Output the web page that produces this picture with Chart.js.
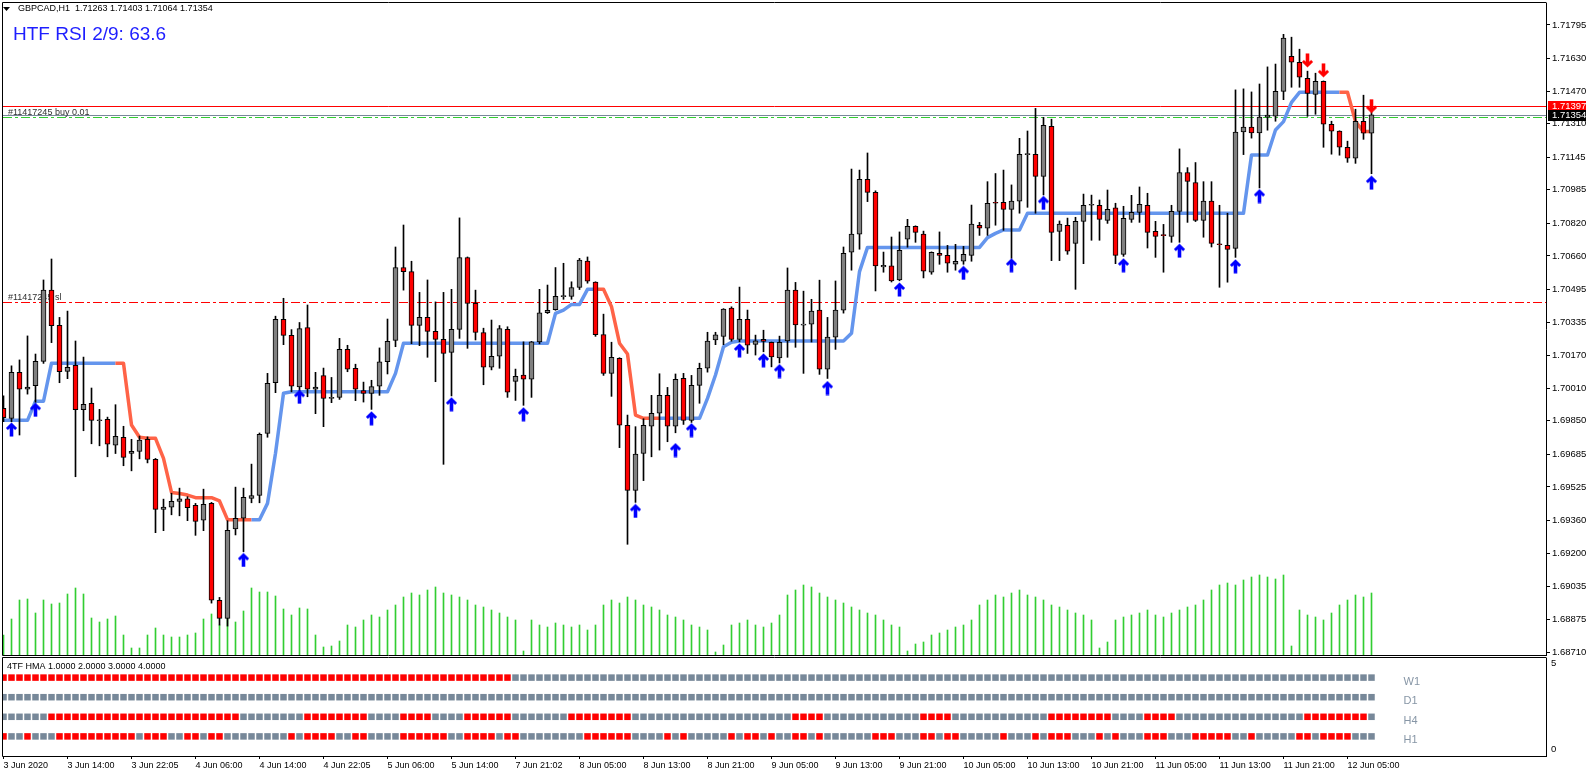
<!DOCTYPE html>
<html>
<head>
<meta charset="utf-8">
<script src="https://cdn.jsdelivr.net/npm/chart.js@4.4.1/dist/chart.umd.min.js"></script>
<style>
  html, body { margin: 0; padding: 0; background: #fff; }
  #wrap { position: relative; width: 1586px; height: 777px; overflow: hidden; }
  canvas { position: absolute; left: 0; }
  #main { top: 0; }
  #sub { top: 657px; }
</style>
</head>
<body>
<div id="wrap">
  <canvas id="main" width="1586" height="657"></canvas>
  <canvas id="sub" width="1586" height="120"></canvas>
</div>
<script>
// GBPCAD H1 bars, oldest first
const openP = [
  1.69911,1.69862,1.70088,1.70005,1.70022,1.70142,1.70492,1.70319,1.70093,1.70122,1.69904,1.69936,1.69850,1.69857,1.69730,1.69769,
  1.69689,1.69699,1.69759,1.69661,1.69415,1.69425,1.69454,1.69466,1.69435,1.69361,1.69444,1.68968,1.68879,1.69318,1.69371,1.69469,
  1.69483,1.69788,1.70037,1.70348,1.70270,1.70016,1.70308,1.70005,1.70072,1.69960,1.69965,1.70201,1.70108,1.69998,1.69985,1.70020,
  1.70140,1.70245,1.70603,1.70583,1.70319,1.70358,1.70289,1.70250,1.70186,1.70299,1.70652,1.70427,1.70284,1.70113,1.70167,1.70299,
  1.70044,1.70075,1.70054,1.70238,1.70381,1.70396,1.70460,1.70461,1.70505,1.70635,1.70531,1.70273,1.70083,1.70157,1.69828,1.69508,
  1.69689,1.69823,1.69887,1.69975,1.69823,1.70059,1.69852,1.70024,1.70108,1.70247,1.70264,1.70404,1.70250,1.70348,1.70225,1.70250,
  1.70235,1.70159,1.70243,1.70492,1.70320,1.70325,1.70394,1.70103,1.70261,1.70394,1.70678,1.70767,1.71036,1.70972,1.70606,1.70611,
  1.70542,1.70743,1.70806,1.70767,1.70580,1.70673,1.70663,1.70619,1.70634,1.70663,1.70811,1.70796,1.70924,1.70924,1.70889,1.70929,
  1.71158,1.71159,1.71051,1.71297,1.70781,1.70811,1.70722,1.70830,1.70909,1.70909,1.70835,1.70896,1.70668,1.70840,1.70874,1.70909,
  1.70781,1.70762,1.70756,1.70879,1.71070,1.71021,1.70835,1.70929,1.70717,1.70712,1.70697,1.71269,1.71293,1.71264,1.71342,1.71347,
  1.71469,1.71641,1.71612,1.71533,1.71454,1.71518,1.71307,1.71273,1.71194,1.71140,1.71322,1.71263
];
const highP = [
  1.69972,1.70120,1.70149,1.70267,1.70178,1.70542,1.70645,1.70358,1.70389,1.70242,1.70163,1.70011,1.69906,1.69868,1.69929,1.69823,
  1.69759,1.69775,1.69771,1.69665,1.69465,1.69494,1.69519,1.69477,1.69444,1.69514,1.69449,1.68982,1.69359,1.69524,1.69519,1.69637,
  1.69790,1.70083,1.70364,1.70452,1.70298,1.70333,1.70419,1.70088,1.70109,1.70063,1.70255,1.70221,1.70128,1.70040,1.70049,1.70208,
  1.70350,1.70704,1.70812,1.70634,1.70481,1.70542,1.70434,1.70481,1.70496,1.70847,1.70655,1.70492,1.70305,1.70345,1.70318,1.70312,
  1.70104,1.70238,1.70240,1.70496,1.70517,1.70603,1.70624,1.70533,1.70648,1.70655,1.70533,1.70374,1.70236,1.70160,1.69878,1.69821,
  1.69860,1.69975,1.70081,1.70014,1.70080,1.70083,1.70073,1.70133,1.70285,1.70285,1.70401,1.70410,1.70507,1.70394,1.70271,1.70295,
  1.70237,1.70266,1.70601,1.70530,1.70487,1.70447,1.70541,1.70358,1.70537,1.70704,1.71087,1.71082,1.71166,1.70980,1.70679,1.70753,
  1.70778,1.70840,1.70808,1.70782,1.70680,1.70778,1.70712,1.70717,1.70707,1.70910,1.70825,1.71025,1.71065,1.71082,1.71009,1.71238,
  1.71274,1.71385,1.71341,1.71332,1.70832,1.70846,1.70850,1.70964,1.70959,1.70935,1.70984,1.70919,1.70904,1.70958,1.70999,1.70968,
  1.70830,1.70815,1.70909,1.71186,1.71094,1.71119,1.71025,1.71025,1.70909,1.70870,1.71476,1.71481,1.71466,1.71505,1.71589,1.71603,
  1.71749,1.71735,1.71676,1.71568,1.71558,1.71520,1.71322,1.71275,1.71224,1.71381,1.71450,1.71403
];
const lowP = [
  1.69845,1.69845,1.69780,1.69981,1.69941,1.70132,1.70234,1.70037,1.70057,1.69575,1.69801,1.69737,1.69727,1.69673,1.69689,1.69629,
  1.69604,1.69663,1.69643,1.69300,1.69310,1.69388,1.69383,1.69359,1.69287,1.69310,1.68954,1.68846,1.68841,1.69289,1.69207,1.69447,
  1.69447,1.69769,1.69988,1.70224,1.69992,1.69997,1.69968,1.69885,1.69821,1.69939,1.69955,1.70091,1.69949,1.69942,1.69906,1.69975,
  1.70080,1.70214,1.70492,1.70229,1.70219,1.70162,1.70042,1.69636,1.69972,1.70255,1.70206,1.70247,1.70027,1.70100,1.70108,1.69965,
  1.69950,1.69926,1.69965,1.70228,1.70377,1.70393,1.70447,1.70447,1.70495,1.70526,1.70265,1.70073,1.69970,1.69718,1.69243,1.69449,
  1.69556,1.69673,1.69706,1.69747,1.69791,1.69832,1.69842,1.69936,1.70089,1.70224,1.70224,1.70241,1.70238,1.70181,1.70173,1.70189,
  1.70115,1.70134,1.70162,1.70211,1.70083,1.70237,1.70078,1.70058,1.70201,1.70379,1.70590,1.70693,1.70927,1.70488,1.70580,1.70532,
  1.70538,1.70703,1.70727,1.70552,1.70570,1.70619,1.70580,1.70590,1.70619,1.70634,1.70761,1.70761,1.70811,1.70786,1.70648,1.70870,
  1.70899,1.70870,1.70960,1.70637,1.70637,1.70668,1.70496,1.70622,1.70737,1.70737,1.70820,1.70622,1.70658,1.70825,1.70825,1.70699,
  1.70653,1.70580,1.70727,1.70727,1.70825,1.70829,1.70752,1.70704,1.70506,1.70531,1.70653,1.71158,1.71239,1.70994,1.71278,1.71322,
  1.71428,1.71489,1.71489,1.71346,1.71356,1.71194,1.71160,1.71155,1.71120,1.71115,1.71233,1.71064
];
const closeP = [
  1.69865,1.70088,1.70005,1.70016,1.70142,1.70492,1.70317,1.70091,1.70113,1.69904,1.69931,1.69852,1.69855,1.69735,1.69774,1.69670,
  1.69700,1.69755,1.69660,1.69415,1.69426,1.69454,1.69466,1.69423,1.69356,1.69440,1.68968,1.68879,1.69312,1.69371,1.69474,1.69483,
  1.69783,1.70034,1.70348,1.70270,1.70020,1.70303,1.70005,1.70016,1.69960,1.69960,1.70201,1.70103,1.70005,1.69985,1.70018,1.70140,
  1.70240,1.70603,1.70583,1.70319,1.70358,1.70289,1.70250,1.70181,1.70299,1.70652,1.70427,1.70284,1.70113,1.70167,1.70303,1.69990,
  1.70069,1.70054,1.70238,1.70381,1.70393,1.70461,1.70462,1.70505,1.70640,1.70536,1.70273,1.70083,1.70162,1.69828,1.69508,1.69686,
  1.69828,1.69887,1.69975,1.69823,1.70054,1.69852,1.70024,1.70108,1.70242,1.70272,1.70399,1.70250,1.70348,1.70222,1.70243,1.70240,
  1.70164,1.70235,1.70492,1.70321,1.70322,1.70389,1.70103,1.70261,1.70394,1.70673,1.70767,1.71036,1.70972,1.70611,1.70614,1.70537,
  1.70688,1.70806,1.70776,1.70585,1.70678,1.70663,1.70624,1.70634,1.70668,1.70816,1.70796,1.70919,1.70919,1.70889,1.70929,1.71159,
  1.71160,1.71051,1.71302,1.70776,1.70816,1.70683,1.70830,1.70909,1.70911,1.70840,1.70889,1.70663,1.70845,1.70874,1.70914,1.70776,
  1.70756,1.70760,1.70879,1.71070,1.71026,1.70835,1.70929,1.70722,1.70715,1.70692,1.71269,1.71293,1.71264,1.71342,1.71352,1.71469,
  1.71730,1.71612,1.71538,1.71459,1.71518,1.71307,1.71273,1.71194,1.71140,1.71322,1.71263,1.71354
];
const tickVolume = [
  800,1440,2200,2240,1680,2200,2040,2080,2440,2680,2440,1480,1320,1440,1560,800,
  280,280,800,1080,800,720,720,800,880,1440,1640,1200,1480,1320,1760,2680,
  2520,2520,2360,1840,1600,1880,1840,800,320,360,560,1200,1120,1400,1600,1520,
  1800,2000,2320,2480,2400,2600,2720,2480,2400,2320,2200,2000,1920,1800,1680,1520,
  1400,160,1400,1200,1120,1280,1200,1120,1200,1000,1200,2000,2200,2080,2320,2200,
  2000,1920,1800,1600,1520,1400,1200,1120,1000,120,400,1200,1280,1400,1200,1120,
  1280,1600,2400,2600,2800,2720,2480,2320,2200,2080,1920,1800,1680,1600,1400,1200,
  1120,160,440,520,800,880,1000,1120,1200,1400,2000,2200,2400,2320,2480,2600,
  2400,2320,2200,2000,1920,1800,1680,1600,1400,280,520,1400,1520,1600,1680,1800,
  1600,1520,1680,1800,1920,2000,2200,2600,2800,2880,2800,3000,3120,3200,3120,3040,
  3200,360,1800,1600,1520,1400,1680,2000,2200,2400,2320,2480
];
// HTF RSI step line and its falling (red) bars
const htfLine = [
  1.69852,1.69852,1.69852,1.69852,1.69946,1.69946,1.70133,1.70133,1.70133,1.70133,1.70133,1.70133,1.70133,1.70133,1.70133,1.70133,
  1.69829,1.69769,1.69764,1.69764,1.69665,1.69498,1.69493,1.69485,1.69472,1.69472,1.69472,1.69456,1.69364,1.69364,1.69364,1.69364,
  1.69364,1.69444,1.69690,1.69985,1.69993,1.69993,1.69993,1.69993,1.69993,1.69993,1.69993,1.69993,1.69993,1.69993,1.69993,1.69993,
  1.69993,1.70083,1.70231,1.70231,1.70231,1.70231,1.70231,1.70231,1.70231,1.70231,1.70231,1.70231,1.70231,1.70231,1.70231,1.70231,
  1.70231,1.70231,1.70231,1.70231,1.70231,1.70378,1.70394,1.70422,1.70422,1.70496,1.70496,1.70496,1.70411,1.70231,1.70178,1.69878,
  1.69862,1.69862,1.69862,1.69862,1.69862,1.69862,1.69862,1.69862,1.69960,1.70075,1.70214,1.70236,1.70242,1.70242,1.70242,1.70242,
  1.70242,1.70242,1.70242,1.70242,1.70242,1.70242,1.70242,1.70242,1.70242,1.70242,1.70280,1.70583,1.70702,1.70702,1.70702,1.70702,
  1.70702,1.70702,1.70702,1.70702,1.70702,1.70702,1.70702,1.70702,1.70702,1.70702,1.70702,1.70750,1.70771,1.70788,1.70788,1.70788,
  1.70870,1.70870,1.70870,1.70870,1.70870,1.70870,1.70870,1.70870,1.70870,1.70870,1.70870,1.70870,1.70870,1.70870,1.70870,1.70870,
  1.70870,1.70870,1.70870,1.70870,1.70870,1.70870,1.70870,1.70870,1.70870,1.70870,1.70870,1.70870,1.71156,1.71156,1.71156,1.71279,
  1.71320,1.71415,1.71464,1.71464,1.71464,1.71464,1.71464,1.71464,1.71464,1.71320,1.71271,1.71271
];
const htfDown = ('00000000 00000001 11111111 11111111 00000000 00000000 00000000 00000000 00000000 00011111 11100000 ' +
  '00000000 00000000 00000000 00000000 00000000 00000000 00000000 00000000 00000000 00000000 1111').replace(/ /g, '').split('').map(Number);

// signal arrows
const upIdx = [1,4,30,37,46,56,65,79,84,86,92,95,97,103,112,120,126,130,140,147,154,157,171];
const upPrice = [1.69807,1.69904,1.69166,1.69968,1.69862,1.69931,1.69882,1.69407,1.69706,1.69804,1.70196,1.70147,
  1.70094,1.70011,1.70495,1.70577,1.70614,1.70921,1.70614,1.70686,1.70609,1.70954,1.71020];
const downIdx = [163,165,171];
const downPrice = [1.71621,1.71572,1.71396];

// order / price lines
const askLine = 1.71397, bidLine = 1.71354, buyOpen = 1.71341, buySL = 1.70432;

// axes
const priceTicks = [1.68710,1.68875,1.69035,1.69200,1.69360,1.69525,1.69685,1.69850,1.70010,1.70170,
  1.70335,1.70495,1.70660,1.70820,1.70985,1.71145,1.71310,1.71470,1.71630,1.71795];
const timeIdx = [0,8,16,24,32,40,48,56,64,72,80,88,96,104,112,120,128,136,144,152,160,168];
const timeLabels = ['3 Jun 2020','3 Jun 14:00','3 Jun 22:05','4 Jun 06:00','4 Jun 14:00','4 Jun 22:05','5 Jun 06:00',
  '5 Jun 14:00','7 Jun 21:02','8 Jun 05:00','8 Jun 13:00','8 Jun 21:00','9 Jun 05:00','9 Jun 13:00','9 Jun 21:00',
  '10 Jun 05:00','10 Jun 13:00','10 Jun 21:00','11 Jun 05:00','11 Jun 13:00','11 Jun 21:00','12 Jun 05:00'];

// 4TF HMA panel, 1 = red (down)
const hmaRows = ['W1','D1','H4','H1'];
const hmaLevels = [4,3,2,1];
const hmaW1 = '11111111 11111111 11111111 11111111 11111111 11111111 11111111 11111111 00000000 00000000 00000000 00000000 00000000 00000000 00000000 00000000 00000000 00000000 00000000 00000000 00000000 0000';
const hmaD1 = '00000000 00000000 00000000 00000000 00000000 00000000 00000000 00000000 00000000 00000000 00000000 00000000 00000000 00000000 00000000 00000000 00000000 00000000 00000000 00000000 00000000 0000';
const hmaH4 = '00000011 11111111 11111111 11111100 00000011 11111100 00111100 00111111 00000001 11111110 00000000 00000000 00011110 00000000 00011110 00000000 00011111 11100001 11100000 00000000 00011111 1110';
const hmaH1 = '10010001 11111111 10111001 10110000 00001011 11001100 00111111 00111101 10000000 01111110 00010100 00010110 10011010 00000111 00011011 00000100 01011100 01010001 11000111 11001000 00110111 1000';
const hmaAxisPos = [4.745, 0.357];
const hmaAxisLabels = ['5', '0'];

const hmaState = [hmaW1, hmaD1, hmaH4, hmaH1].map(s => s.replace(/ /g, '').split('').map(Number));

Chart.defaults.font.family = "'Liberation Sans', Arial, sans-serif";
Chart.defaults.color = '#000';

const idx = openP.map((_, i) => i);
const X_MIN = -0.0625, X_MAX = 192.8125;
const Y_MIN = 1.68699, Y_MAX = 1.71903;
const VOL_MAX = 26080;

function arrowImg(color, down) {
  const c = document.createElement('canvas');
  c.width = 13; c.height = 15;
  const g = c.getContext('2d');
  g.translate(6.5, 7.5);
  if (down) g.scale(1, -1);
  g.fillStyle = color;
  g.beginPath();
  g.moveTo(0, -7); g.lineTo(5.6, -1.4); g.lineTo(3.6, 0.6); g.lineTo(1.8, -1.2);
  g.lineTo(1.8, 7); g.lineTo(-1.8, 7); g.lineTo(-1.8, -1.2); g.lineTo(-3.6, 0.6); g.lineTo(-5.6, -1.4);
  g.closePath(); g.fill();
  return c;
}

const frame = {
  id: 'frame',
  afterDraw(chart) {
    const {ctx, chartArea: a} = chart;
    ctx.save();
    ctx.strokeStyle = '#000'; ctx.lineWidth = 1;
    ctx.beginPath();
    ctx.moveTo(a.left - 0.5, a.bottom + 0.5); ctx.lineTo(a.left - 0.5, a.top - 0.5); ctx.lineTo(a.right + 0.5, a.top - 0.5);
    ctx.moveTo(a.left - 0.5, a.bottom + 0.5); ctx.lineTo(a.right + 0.5, a.bottom + 0.5);
    ctx.stroke();
    ctx.restore();
  }
};

const mainDecor = {
  id: 'mainDecor',
  beforeDatasetsDraw(chart) {
    const {ctx, chartArea: a, scales: {y}} = chart;
    const py = v => Math.round(y.getPixelForValue(v)) + 0.5;
    ctx.save();
    ctx.lineWidth = 1;
    const hl = (v, color, dash) => {
      ctx.strokeStyle = color; ctx.setLineDash(dash);
      ctx.beginPath(); ctx.moveTo(a.left, py(v)); ctx.lineTo(a.right, py(v)); ctx.stroke();
    };
    hl(buySL, '#FF0000', [9, 3, 3, 3]);
    hl(buyOpen, '#32CD32', [9, 3, 3, 3]);
    hl(bidLine, '#778899', []);
    hl(askLine, '#FF0000', []);
    ctx.setLineDash([]);
    ctx.fillStyle = '#303030';
    ctx.font = "9px 'Liberation Sans', Arial, sans-serif";
    ctx.textBaseline = 'alphabetic';
    ctx.fillText('#11417245 buy 0.01', 8, py(buyOpen) - 3);
    ctx.fillText('#11417245 sl', 8, py(buySL) - 3);
    ctx.restore();
  },
  afterDraw(chart) {
    const {ctx, chartArea: a, scales: {y}} = chart;
    ctx.save();
    // header
    ctx.fillStyle = '#fff';
    ctx.fillRect(0, 0, 212, 15);
    ctx.fillStyle = '#000';
    ctx.beginPath(); ctx.moveTo(3, 7); ctx.lineTo(10, 7); ctx.lineTo(6.5, 11); ctx.closePath(); ctx.fill();
    ctx.font = "9px 'Liberation Sans', Arial, sans-serif";
    ctx.textBaseline = 'middle';
    const last = openP.length - 1;
    ctx.fillText('GBPCAD,H1  ' + [openP[last], highP[last], lowP[last], closeP[last]].map(v => v.toFixed(5)).join(' '), 18, 9);
    ctx.fillStyle = '#1e1eff';
    ctx.font = "19px 'Liberation Sans', Arial, sans-serif";
    ctx.fillText('HTF RSI 2/9: 63.6', 13, 35);
    // price tags on the axis
    ctx.font = "9.5px 'Liberation Sans', Arial, sans-serif";
    const tag = (v, bg) => {
      const py = Math.round(y.getPixelForValue(v));
      ctx.fillStyle = bg; ctx.fillRect(a.right + 2, py - 5, 38, 11);
      ctx.fillStyle = '#fff'; ctx.fillText(v.toFixed(5), a.right + 6, py + 0.5);
    };
    tag(askLine, '#FF0000');
    tag(bidLine, '#000000');
    ctx.restore();
  }
};

new Chart(document.getElementById('main'), {
  type: 'bar',
  data: {
    datasets: [
      { type: 'bar', label: 'Volumes', xAxisID: 'x', yAxisID: 'yVol', data: idx.map(i => ({x: i, y: tickVolume[i]})),
        backgroundColor: '#32CD32', barThickness: 1, grouped: false, order: 9 },
      { type: 'line', label: 'HTF RSI', xAxisID: 'x', yAxisID: 'y', data: idx.map(i => ({x: i, y: htfLine[i]})),
        borderColor: '#6495ED', borderWidth: 3.5, pointRadius: 0, tension: 0, borderJoinStyle: 'round',
        segment: { borderColor: c => htfDown[c.p1DataIndex] ? '#FF6347' : '#6495ED' }, order: 6 },
      { type: 'bar', label: 'wick', xAxisID: 'x', yAxisID: 'y', data: idx.map(i => ({x: i, y: [lowP[i], highP[i]]})),
        backgroundColor: '#000', barThickness: 1, grouped: false, order: 4 },
      { type: 'bar', label: 'body', xAxisID: 'x', yAxisID: 'y', data: idx.map(i => ({x: i, y: [openP[i], closeP[i]]})),
        backgroundColor: idx.map(i => closeP[i] >= openP[i] ? '#808080' : '#FF0000'),
        borderColor: '#000', borderWidth: 1, borderSkipped: false, barThickness: 5, minBarLength: 1,
        grouped: false, order: 3 },
      { type: 'scatter', label: 'up', xAxisID: 'x', yAxisID: 'y', data: upIdx.map((v, k) => ({x: v, y: upPrice[k]})),
        pointStyle: arrowImg('#0000FF', false), pointRadius: 7, order: 1 },
      { type: 'scatter', label: 'down', xAxisID: 'x', yAxisID: 'y', data: downIdx.map((v, k) => ({x: v, y: downPrice[k]})),
        pointStyle: arrowImg('#FF0000', true), pointRadius: 7, order: 1 }
    ]
  },
  options: {
    responsive: false, animation: false, devicePixelRatio: 1, events: [],
    layout: { autoPadding: false, padding: { left: 3, top: 3, right: 0, bottom: 2 } },
    plugins: { legend: { display: false }, tooltip: { enabled: false } },
    scales: {
      x: { type: 'linear', display: false, min: X_MIN, max: X_MAX, offset: false, grid: { offset: false } },
      y: {
        type: 'linear', position: 'right', min: Y_MIN, max: Y_MAX,
        afterBuildTicks: s => { s.ticks = priceTicks.map(v => ({value: v})); },
        afterFit: s => { s.width = 40; s.paddingTop = 0; s.paddingBottom = 0; },
        grid: { display: true, drawOnChartArea: false, drawTicks: true, tickLength: 4, color: '#000' },
        border: { display: true, color: '#000' },
        ticks: { autoSkip: false, padding: 2, color: '#000', font: { size: 9.5 }, callback: v => v.toFixed(5) }
      },
      yVol: { type: 'linear', display: false, min: 0, max: VOL_MAX }
    }
  },
  plugins: [mainDecor, frame]
});

const subDecor = {
  id: 'subDecor',
  afterDraw(chart) {
    const {ctx, scales: {x, y}} = chart;
    ctx.save();
    ctx.fillStyle = '#000';
    ctx.font = "9px 'Liberation Sans', Arial, sans-serif";
    ctx.textBaseline = 'middle';
    ctx.fillText('4TF HMA 1.0000 2.0000 3.0000 4.0000', 7, 10);
    ctx.fillStyle = '#8796a6';
    ctx.font = "11px 'Liberation Sans', Arial, sans-serif";
    const lx = x.getPixelForValue(openP.length - 1) + 32;
    hmaRows.forEach((r, k) => ctx.fillText(r, lx, y.getPixelForValue(hmaLevels[k]) + 4));
    ctx.restore();
  }
};

new Chart(document.getElementById('sub'), {
  type: 'scatter',
  data: {
    datasets: hmaRows.map((r, k) => ({
      label: r, xAxisID: 'x', yAxisID: 'y',
      data: idx.map(i => ({x: i, y: hmaLevels[k]})),
      pointStyle: 'rect', pointRadius: 4.6, pointBorderWidth: 0,
      pointBackgroundColor: idx.map(i => hmaState[k][i] ? '#FF0000' : '#778899')
    }))
  },
  options: {
    responsive: false, animation: false, devicePixelRatio: 1, events: [],
    layout: { autoPadding: false, padding: { left: 3, top: 1, right: 0, bottom: 0 } },
    plugins: { legend: { display: false }, tooltip: { enabled: false } },
    scales: {
      x: {
        type: 'linear', min: X_MIN, max: X_MAX, offset: false, position: 'bottom',
        afterBuildTicks: s => { s.ticks = timeIdx.map(v => ({value: v})); },
        afterFit: s => { s.height = 21; s.paddingLeft = 0; s.paddingRight = 0; },
        grid: { display: true, drawOnChartArea: false, drawTicks: true, tickLength: 3, color: '#000' },
        border: { display: true, color: '#000' },
        ticks: { autoSkip: false, maxRotation: 0, align: 'start', padding: 1, color: '#000', font: { size: 9 },
          callback: (v, k) => timeLabels[k] }
      },
      y: {
        type: 'linear', position: 'right', min: 0, max: 5,
        afterBuildTicks: s => { s.ticks = hmaAxisPos.map(v => ({value: v})); },
        afterFit: s => { s.width = 40; s.paddingTop = 0; s.paddingBottom = 0; },
        grid: { display: true, drawOnChartArea: false, drawTicks: false },
        border: { display: true, color: '#000' },
        ticks: { autoSkip: false, padding: 5, color: '#000', font: { size: 9.5 }, callback: (v, k) => hmaAxisLabels[k] }
      }
    }
  },
  plugins: [subDecor, frame]
});
</script>
</body>
</html>
